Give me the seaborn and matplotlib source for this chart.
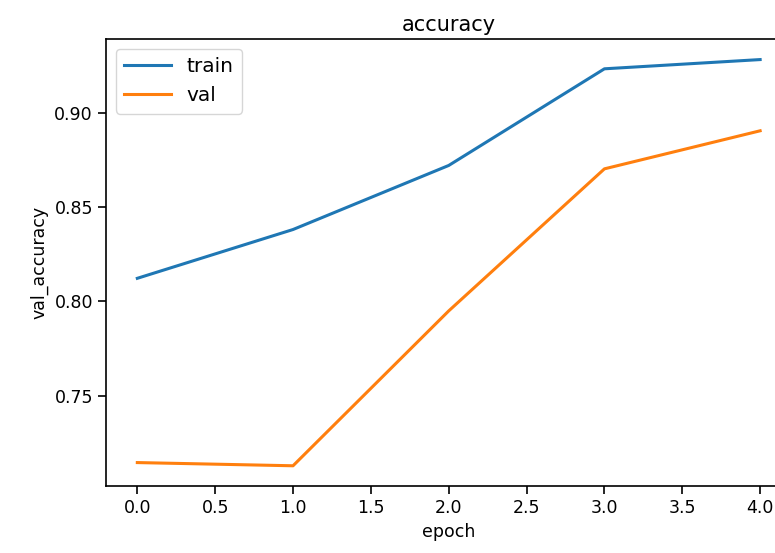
import matplotlib
matplotlib.use("Agg")
import matplotlib.pyplot as plt
import pandas as pd
import seaborn as sns

epoch = [0, 1, 2, 3, 4]
accuracy = [0.8123, 0.8382, 0.8722, 0.9235, 0.9284]
val_accuracy = [0.7145, 0.7128, 0.7950, 0.8704, 0.8906]

history = pd.DataFrame({"epoch": epoch, "accuracy": accuracy, "val_accuracy": val_accuracy})

plt.rcParams["font.family"] = ["DejaVu Sans"]
plt.rcParams["font.size"] = 12.5

fig = plt.figure(figsize=(7.75, 5.53), dpi=100)
# the original image is cropped on the right, so the axes run past the edge
ax = fig.add_axes([0.137, 0.121, 0.884, 0.808])

sns.lineplot(data=history, x="epoch", y="accuracy", ax=ax, label="train", linewidth=2.2)
sns.lineplot(data=history, x="epoch", y="val_accuracy", ax=ax, label="val", linewidth=2.2)
ax.set_title("accuracy")
ax.set_ylabel("val_accuracy")
ax.legend(loc="upper left", fontsize=14.5, handlelength=2.3)
ax.tick_params(length=6, width=1.2)
for s in ax.spines.values():
    s.set_linewidth(1.2)

fig.savefig("out.png", dpi=100)
